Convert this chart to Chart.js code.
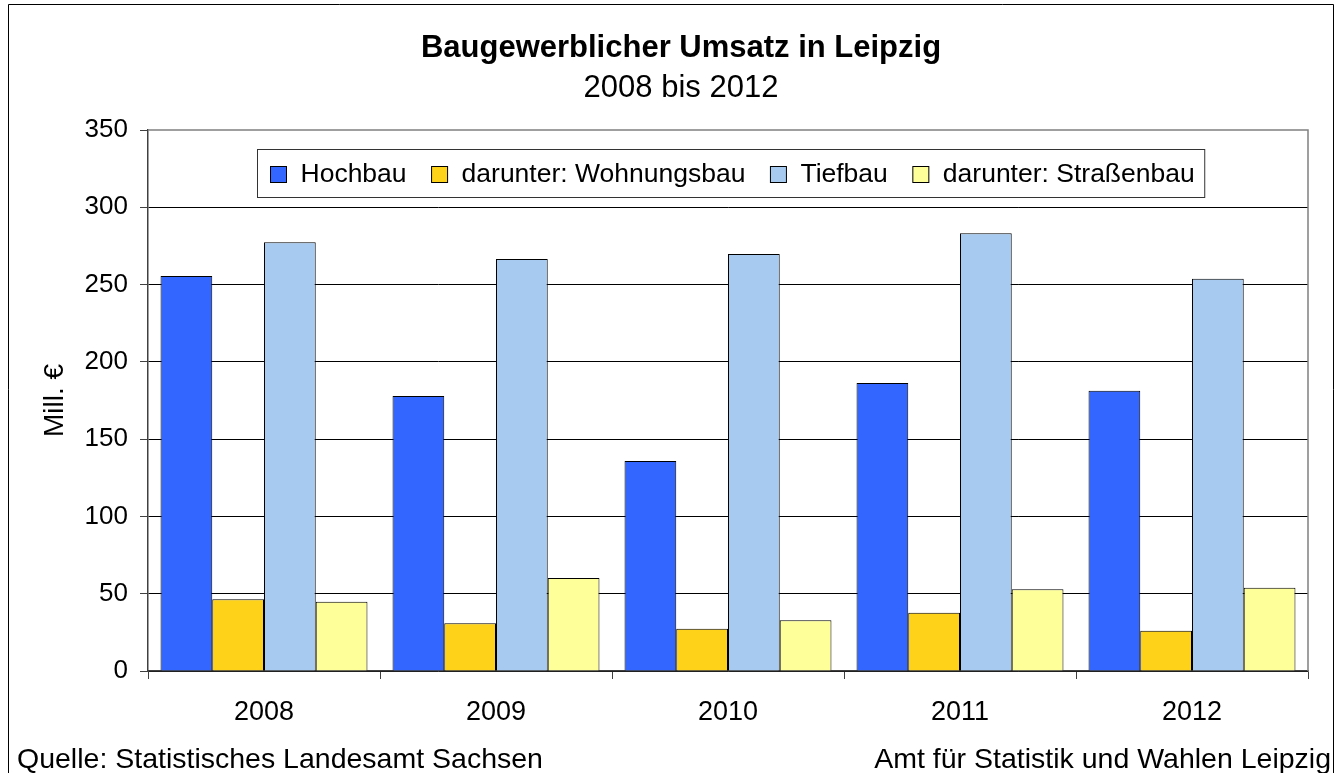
<!DOCTYPE html>
<html>
<head>
<meta charset="utf-8">
<script src="https://cdn.jsdelivr.net/npm/chart.js@4"></script>
<style>
  html, body { margin: 0; padding: 0; background: #fff; }
  canvas { display: block; }
</style>
</head>
<body>
<canvas id="chart" width="1335" height="773"></canvas>
<script>
const years = ['2008', '2009', '2010', '2011', '2012'];
const hochbau = [255.5, 177.9, 135.9, 186.3, 181.3];
const wohnungsbau = [46.4, 30.9, 27.4, 37.7, 26.1];
const tiefbau = [277.4, 266.5, 269.8, 283.2, 253.8];
const strassenbau = [44.8, 60.2, 32.8, 52.9, 53.9];
const seriesLabels = ['Hochbau', 'darunter: Wohnungsbau', 'Tiefbau', 'darunter: Straßenbau'];
const seriesColors = ['#3366ff', '#ffd21a', '#a6caf0', '#ffff99'];
const titleText = 'Baugewerblicher Umsatz in Leipzig';
const subtitleText = '2008 bis 2012';
const yAxisTitle = 'Mill. €';
const sourceLeft = 'Quelle: Statistisches Landesamt Sachsen';
const sourceRight = 'Amt für Statistik und Wahlen Leipzig';

const FONT = '"Liberation Sans", Arial, Helvetica, sans-serif';

/** white background and the thin frame round the whole picture */
const framePlugin = {
    id: 'frame',
    beforeDraw(chart) {
        const ctx = chart.ctx;
        ctx.save();
        ctx.fillStyle = '#fff';
        ctx.fillRect(0, 0, chart.width, chart.height);
        ctx.restore();
    },
    afterDraw(chart) {
        const ctx = chart.ctx;
        const area = chart.chartArea;
        ctx.save();
        // plot area border, top and right side
        ctx.strokeStyle = '#808080';
        ctx.lineWidth = 1.5;
        ctx.beginPath();
        ctx.moveTo(area.left, area.top);
        ctx.lineTo(area.right, area.top);
        ctx.lineTo(area.right, area.bottom);
        ctx.stroke();
        // outer frame
        ctx.strokeStyle = '#000';
        ctx.lineWidth = 1;
        ctx.beginPath();
        ctx.moveTo(8.5, chart.height + 2);
        ctx.lineTo(8.5, 4.5);
        ctx.lineTo(1333.5, 4.5);
        ctx.lineTo(1333.5, chart.height + 2);
        ctx.stroke();
        ctx.restore();
    }
};

/** legend drawn inside the plot area, in a box, like the original */
const boxLegendPlugin = {
    id: 'boxLegend',
    afterDraw(chart) {
        const ctx = chart.ctx;
        const area = chart.chartArea;
        const fontSize = 26.5;
        const margin = 13, endMargin = 10, square = 16, gap = 14, itemGap = 25;
        ctx.save();
        ctx.font = fontSize + 'px ' + FONT;
        const widths = chart.data.datasets.map(ds => ctx.measureText(ds.label).width);
        let total = margin + endMargin + itemGap * (widths.length - 1);
        widths.forEach(w => { total += square + gap + w; });
        const left = Math.round((area.left + area.right) / 2 - total / 2) + 3.5;
        const top = area.top + 19.5;
        const height = 48;
        ctx.fillStyle = '#fff';
        ctx.fillRect(left, top, total, height);
        ctx.strokeStyle = '#333';
        ctx.lineWidth = 1;
        ctx.strokeRect(left, top, total, height);

        let x = left + margin;
        ctx.textBaseline = 'middle';
        ctx.textAlign = 'left';
        chart.data.datasets.forEach((ds, i) => {
            ctx.fillStyle = ds.backgroundColor;
            ctx.fillRect(x, top + 17, square, square);
            ctx.strokeStyle = '#000';
            ctx.strokeRect(x, top + 17, square, square);
            x += square + gap;
            ctx.fillStyle = '#000';
            ctx.fillText(ds.label, x, top + height / 2 + 1);
            x += widths[i] + itemGap;
        });
        ctx.restore();
    }
};

/** source lines under the chart */
const sourcePlugin = {
    id: 'sources',
    afterDraw(chart) {
        const ctx = chart.ctx;
        ctx.save();
        ctx.font = '28.5px ' + FONT;
        ctx.fillStyle = '#000';
        ctx.textBaseline = 'alphabetic';
        ctx.textAlign = 'left';
        ctx.fillText(sourceLeft, 17, 768);
        ctx.textAlign = 'right';
        ctx.fillText(sourceRight, 1331, 768);
        ctx.restore();
    }
};

const chartData = {
    labels: years,
    datasets: [hochbau, wohnungsbau, tiefbau, strassenbau].map((values, i) => ({
        label: seriesLabels[i],
        data: values,
        backgroundColor: seriesColors[i],
        borderColor: '#000',
        borderWidth: 1,
        categoryPercentage: 0.892,
        barPercentage: 1.0
    }))
};

new Chart(document.getElementById('chart'), {
    type: 'bar',
    data: chartData,
    plugins: [framePlugin, boxLegendPlugin, sourcePlugin],
    options: {
        responsive: false,
        animation: false,
        devicePixelRatio: 1,
        layout: { padding: { left: 54, right: 27, top: 0, bottom: 0 } },
        plugins: {
            legend: { display: false },
            tooltip: { enabled: false },
            title: {
                display: true,
                text: titleText,
                color: '#000',
                font: { family: FONT, size: 31, weight: 'bold' },
                padding: { top: 30, bottom: 3 }
            },
            subtitle: {
                display: true,
                text: subtitleText,
                color: '#000',
                font: { family: FONT, size: 31, weight: 'normal' },
                padding: { top: 0, bottom: 22.6 }
            }
        },
        scales: {
            x: {
                afterFit: scale => { scale.height = 102; },
                grid: {
                    display: true,
                    drawOnChartArea: false,
                    drawTicks: true,
                    tickLength: 8,
                    color: '#404040',
                    offset: true
                },
                border: { display: true, color: '#404040', width: 1.5 },
                ticks: {
                    color: '#000',
                    padding: 17.3,
                    font: { family: FONT, size: 27 }
                }
            },
            y: {
                min: 0,
                max: 350,
                afterFit: scale => { scale.width = 94; },
                grid: {
                    color: ctx => (ctx.tick && ctx.tick.value === 350) ? 'rgba(0,0,0,0)' : '#000',
                    tickColor: '#404040',
                    tickLength: 8,
                    lineWidth: 1
                },
                border: { display: true, color: '#404040', width: 1.5 },
                ticks: {
                    stepSize: 50,
                    color: '#000',
                    padding: 12,
                    font: { family: FONT, size: 26 }
                },
                title: {
                    display: true,
                    text: yAxisTitle,
                    color: '#000',
                    font: { family: FONT, size: 28 },
                    padding: { top: -15.8, bottom: 0 }
                }
            }
        }
    }
});
</script>
</body>
</html>
